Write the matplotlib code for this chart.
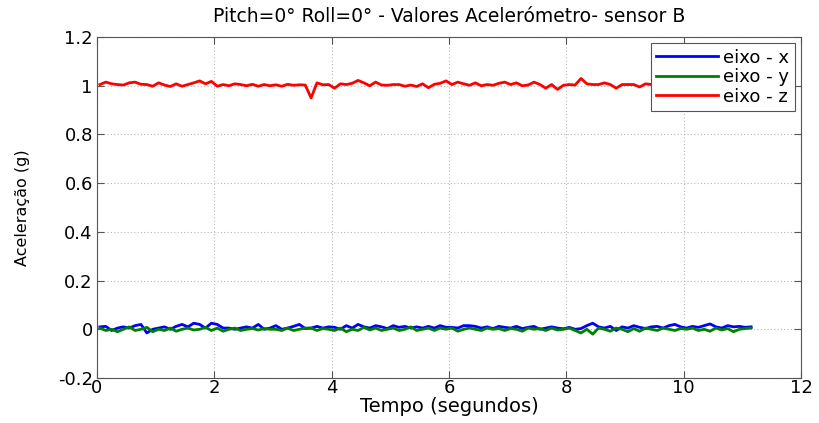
import matplotlib
matplotlib.use('Agg')
import matplotlib.pyplot as plt
import numpy as np

# sampling of the recording (s)
t_start = 0.05
dt = 0.1

# accelerometer readings, sensor B (g)
eixo_x = [0.01, 0.012, -0.005, 0.005, 0.01, 0.005, 0.015, 0.02, -0.015, 0.0,
          0.005, 0.01, 0.0, 0.012, 0.02, 0.01, 0.025, 0.02, 0.005, 0.025,
          0.02, 0.005, 0.005, 0.0, 0.005, 0.01, 0.005, 0.02, 0.0, 0.005,
          0.015, 0.0, 0.005, 0.012, 0.02, 0.003, 0.005, 0.012, 0.005, 0.01,
          0.008, 0.0, 0.015, 0.005, 0.02, 0.01, 0.005, 0.015, 0.01, 0.003,
          0.015, 0.008, 0.012, 0.005, 0.01, 0.005, 0.012, 0.005, 0.015, 0.008,
          0.008, 0.005, 0.015, 0.015, 0.012, 0.005, 0.01, 0.003, 0.012, 0.008,
          0.005, 0.012, 0.003, 0.008, 0.012, 0.0, 0.005, 0.01, 0.005, 0.002,
          0.008, 0.0, 0.003, 0.015, 0.025, 0.01, 0.005, 0.012, -0.005, 0.01,
          0.005, 0.015, 0.008, 0.003, 0.01, 0.012, 0.005, 0.015, 0.02, 0.01,
          0.005, 0.012, 0.008, 0.015, 0.022, 0.01, 0.005, 0.015, 0.01, 0.012,
          0.008, 0.01]
eixo_y = [0.005, -0.005, 0.0, -0.01, 0.0, 0.01, -0.005, 0.0, 0.008, -0.01,
          0.0, -0.005, 0.005, -0.008, 0.0, 0.005, -0.003, 0.0, 0.008, -0.005,
          0.005, -0.008, 0.0, 0.005, -0.005, 0.0, 0.003, -0.003, 0.003, 0.0,
          0.0, -0.005, 0.005, -0.005, 0.0, 0.005, 0.005, -0.005, 0.003, 0.0,
          -0.005, 0.005, -0.01, 0.0, -0.005, 0.008, -0.003, 0.005, -0.005, 0.0,
          0.005, -0.005, 0.0, 0.01, -0.005, 0.0, 0.005, -0.005, 0.005, 0.0,
          0.005, -0.008, 0.0, 0.005, 0.0, -0.005, 0.005, 0.0, 0.003, -0.005,
          0.003, 0.0, -0.008, 0.005, 0.0, 0.003, -0.005, 0.005, -0.003, 0.0,
          0.005, -0.005, -0.015, 0.0, -0.02, 0.005, 0.0, -0.008, 0.005, 0.0,
          -0.01, 0.003, -0.008, 0.005, 0.0, -0.005, 0.005, 0.0, -0.005, 0.003,
          0.0, 0.005, -0.005, 0.0, -0.008, 0.005, -0.003, 0.003, -0.01, 0.0,
          0.003, 0.005]
eixo_z = [1.005, 1.015, 1.008, 1.005, 1.003, 1.012, 1.015, 1.006, 1.005, 0.998,
          1.012, 1.003, 0.997, 1.008, 0.998, 1.005, 1.012, 1.02, 1.008, 1.018,
          0.998, 1.005, 1.0, 1.008, 1.005, 1.0, 1.006, 0.998, 1.005, 1.0,
          1.004, 0.998, 1.006, 1.002, 1.004, 1.003, 0.95, 1.012, 1.004, 1.005,
          0.99, 1.008, 1.005, 1.01, 1.022, 1.012, 1.0, 1.015, 1.003, 1.002,
          1.005, 1.005, 0.998, 1.003, 0.997, 1.008, 0.992, 1.006, 1.01, 1.02,
          1.005, 1.015, 1.008, 1.002, 1.012, 1.0, 1.005, 1.002, 1.01, 1.015,
          1.005, 1.012, 1.0, 1.003, 1.015, 1.005, 0.99, 1.005, 0.985, 1.002,
          1.005, 1.003, 1.03, 1.008, 1.005, 1.005, 1.012, 1.005, 0.99, 1.005,
          1.005, 1.005, 0.995, 1.008, 1.005, 1.01, 1.0, 1.005, 1.008, 1.003,
          1.005, 1.0, 1.01, 1.005, 1.003, 1.012, 1.0, 1.005, 1.008, 1.003,
          1.005, 1.004]

labels = ['eixo - x', 'eixo - y', 'eixo - z']
colors = ['#0000ff', '#008000', '#ff0000']

t = t_start + dt * np.arange(len(eixo_x))

plt.rcParams['font.family'] = ['DejaVu Sans']

fig = plt.figure(figsize=(8.19, 4.23), dpi=100)
ax = fig.add_axes([0.1184, 0.1064, 0.8596, 0.806])

for vals, lab, c in zip([eixo_x, eixo_y, eixo_z], labels, colors):
    ax.plot(t, vals, color=c, lw=2, label=lab)

ax.set_xlim(0, 12)
ax.set_ylim(-0.2, 1.2)
ax.set_xticks(np.arange(0, 13, 2))
ax.set_yticks(np.arange(-0.2, 1.21, 0.2))
ax.set_yticklabels(['-0.2', '0', '0.2', '0.4', '0.6', '0.8', '1', '1.2'])
ax.grid(True, linestyle=(0, (1, 2)), color='#b8b8b8', lw=0.8)
ax.tick_params(direction='in', length=5, labelsize=13, pad=3, color='#555555',
               top=True, right=True)
ax.tick_params(axis='x', pad=1)
for s in ax.spines.values():
    s.set_color('#555555')

ax.set_title('Pitch=0° Roll=0° - Valores Acelerómetro- sensor B', fontsize=13.5, pad=11)
ax.set_xlabel('Tempo (segundos)', fontsize=14, labelpad=0)
ax.set_ylabel('Aceleração (g)', fontsize=11.5, labelpad=20)

leg = ax.legend(loc='upper right', fontsize=13, handlelength=3.4, borderaxespad=0.35,
                fancybox=False, edgecolor='#555555', framealpha=1, labelspacing=0.08,
                borderpad=0.3, handletextpad=0.3)
leg.get_frame().set_linewidth(0.8)

fig.savefig('out.png', dpi=100)
